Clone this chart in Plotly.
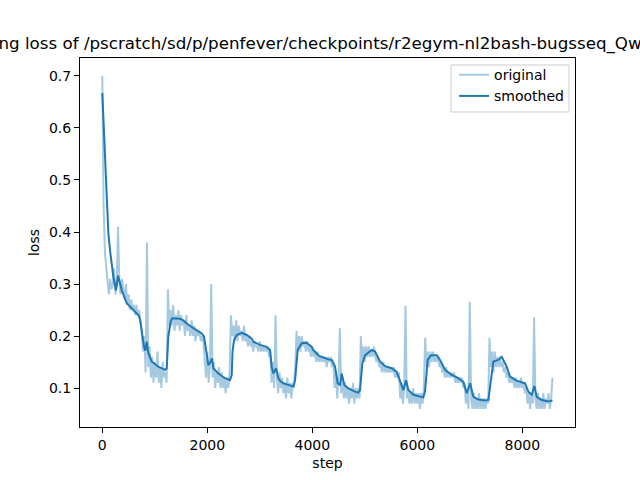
import plotly.graph_objects as go

TITLE = "Training loss of /pscratch/sd/p/penfever/checkpoints/r2egym-nl2bash-bugsseq_Qwen3-8B"

# original loss, one value every 25 steps starting at step 0
orig_interval = 25
orig_loss = [
    0.70, 0.45, 0.36, 0.33, 0.30, 0.28, 0.31, 0.29,
    0.30, 0.33, 0.28, 0.30, 0.41, 0.30, 0.28, 0.31,
    0.29, 0.27, 0.30, 0.26, 0.28, 0.25, 0.27, 0.25,
    0.26, 0.24, 0.26, 0.24, 0.25, 0.23, 0.21, 0.17,
    0.20, 0.13, 0.38, 0.14, 0.18, 0.12, 0.16, 0.11,
    0.15, 0.12, 0.17, 0.11, 0.14, 0.10, 0.15, 0.12,
    0.13, 0.11, 0.29, 0.22, 0.25, 0.22, 0.26, 0.21,
    0.24, 0.22, 0.25, 0.21, 0.24, 0.22, 0.23, 0.20,
    0.24, 0.21, 0.22, 0.20, 0.23, 0.20, 0.22, 0.19,
    0.21, 0.20, 0.21, 0.19, 0.20, 0.19, 0.15, 0.12,
    0.17, 0.11, 0.14, 0.30, 0.12, 0.15, 0.10, 0.13,
    0.11, 0.14, 0.10, 0.13, 0.10, 0.12, 0.09, 0.12,
    0.10, 0.13, 0.24, 0.20, 0.22, 0.19, 0.23, 0.19,
    0.22, 0.20, 0.21, 0.19, 0.22, 0.19, 0.20, 0.18,
    0.20, 0.18, 0.19, 0.17, 0.19, 0.18, 0.18, 0.17,
    0.19, 0.17, 0.18, 0.17, 0.18, 0.17, 0.18, 0.16,
    0.17, 0.11, 0.15, 0.10, 0.24, 0.12, 0.09, 0.13,
    0.10, 0.12, 0.09, 0.11, 0.08, 0.12, 0.09, 0.11,
    0.08, 0.11, 0.10, 0.14, 0.21, 0.17, 0.20, 0.17,
    0.20, 0.18, 0.19, 0.17, 0.19, 0.17, 0.18, 0.16,
    0.18, 0.16, 0.17, 0.15, 0.17, 0.15, 0.16, 0.15,
    0.16, 0.15, 0.16, 0.14, 0.16, 0.15, 0.16, 0.14,
    0.15, 0.10, 0.13, 0.08, 0.12, 0.215, 0.09, 0.12,
    0.08, 0.11, 0.08, 0.10, 0.07, 0.10, 0.08, 0.11,
    0.07, 0.10, 0.08, 0.10, 0.08, 0.20, 0.15, 0.18,
    0.15, 0.18, 0.16, 0.18, 0.16, 0.17, 0.16, 0.18,
    0.16, 0.15, 0.16, 0.14, 0.15, 0.13, 0.15, 0.13,
    0.14, 0.13, 0.14, 0.13, 0.14, 0.13, 0.14, 0.12,
    0.13, 0.12, 0.13, 0.08, 0.11, 0.07, 0.10, 0.258,
    0.08, 0.10, 0.07, 0.09, 0.07, 0.10, 0.07, 0.09,
    0.07, 0.09, 0.06, 0.09, 0.07, 0.10, 0.197, 0.14,
    0.17, 0.14, 0.17, 0.15, 0.17, 0.15, 0.16, 0.15,
    0.16, 0.14, 0.15, 0.13, 0.14, 0.12, 0.14, 0.12,
    0.13, 0.12, 0.13, 0.12, 0.13, 0.11, 0.12, 0.11,
    0.12, 0.11, 0.12, 0.10, 0.11, 0.07, 0.10, 0.06,
    0.266, 0.08, 0.06, 0.09, 0.06, 0.08, 0.06, 0.09,
    0.06, 0.08, 0.06, 0.08, 0.06, 0.08, 0.07, 0.197,
    0.14, 0.17, 0.13, 0.17, 0.14, 0.16, 0.14, 0.16,
    0.14, 0.15, 0.13, 0.14, 0.12, 0.13, 0.11, 0.12,
    0.11, 0.12, 0.10, 0.12, 0.10, 0.11, 0.10, 0.12,
    0.10, 0.11, 0.09, 0.10, 0.07, 0.09, 0.06, 0.09,
    0.07, 0.236, 0.08, 0.06, 0.09, 0.06, 0.08, 0.06,
    0.09, 0.06, 0.08, 0.07, 0.09, 0.06, 0.08, 0.119,
]
orig_step = [i * orig_interval for i in range(len(orig_loss))]

smooth_step = [
    0, 25, 50, 85, 115, 150, 210, 260, 300, 330, 370, 465, 590, 690, 720, 750,
    795, 820, 845, 877, 940, 1000, 1067, 1194, 1227, 1257, 1303, 1330, 1385,
    1480, 1544, 1608, 1734, 1830, 1893, 1937, 1975, 2020, 2050, 2090, 2115,
    2147, 2210, 2274, 2337, 2433, 2465, 2480, 2509, 2560, 2656, 2751, 2846,
    2877, 3004, 3131, 3195, 3227, 3258, 3309, 3353, 3385, 3448, 3543, 3639,
    3671, 3700, 3722, 3798, 3893, 3988, 4020, 4115, 4147, 4306, 4370, 4433,
    4484, 4528, 4560, 4610, 4687, 4814, 4877, 4909, 4953, 5004, 5132, 5195,
    5290, 5385, 5513, 5608, 5671, 5735, 5786, 5830, 5925, 6052, 6115, 6147,
    6198, 6262, 6370, 6433, 6528, 6656, 6782, 6877, 6942, 7005, 7068, 7163,
    7290, 7354, 7405, 7449, 7544, 7608, 7703, 7767, 7894, 8053, 8116, 8180,
    8230, 8275, 8370, 8497, 8575,
]
smooth_loss = [
    0.667, 0.61, 0.558, 0.46, 0.398, 0.362, 0.314, 0.288, 0.316, 0.305, 0.288,
    0.263, 0.25, 0.24, 0.231, 0.206, 0.179, 0.172, 0.189, 0.167, 0.151, 0.146,
    0.141, 0.135, 0.138, 0.199, 0.228, 0.234, 0.234, 0.233, 0.230, 0.224,
    0.215, 0.208, 0.205, 0.199, 0.17, 0.144, 0.148, 0.157, 0.138, 0.134, 0.128,
    0.123, 0.119, 0.115, 0.125, 0.17, 0.192, 0.202, 0.206, 0.202, 0.195, 0.189,
    0.183, 0.179, 0.173, 0.141, 0.128, 0.138, 0.119, 0.114, 0.109, 0.106,
    0.103, 0.115, 0.155, 0.173, 0.186, 0.187, 0.179, 0.173, 0.163, 0.161,
    0.155, 0.154, 0.141, 0.109, 0.106, 0.128, 0.106, 0.099, 0.093, 0.091,
    0.096, 0.147, 0.163, 0.173, 0.170, 0.151, 0.142, 0.138, 0.131, 0.115,
    0.096, 0.115, 0.096, 0.087, 0.083, 0.082, 0.093, 0.154, 0.163, 0.163,
    0.154, 0.135, 0.125, 0.119, 0.112, 0.090, 0.109, 0.083, 0.078, 0.076,
    0.077, 0.122, 0.151, 0.154, 0.160, 0.141, 0.122, 0.114, 0.109, 0.093,
    0.087, 0.104, 0.083, 0.077, 0.074, 0.076,
]

x_ticks = [0, 2000, 4000, 6000, 8000]
y_ticks = [0.1, 0.2, 0.3, 0.4, 0.5, 0.6, 0.7]
y_tick_text = ["0.1", "0.2", "0.3", "0.4", "0.5", "0.6", "0.7"]

BLUE = "#1f77b4"
FONT = "DejaVu Sans"

fig = go.Figure()
fig.add_trace(go.Scatter(
    x=orig_step, y=orig_loss, mode="lines", name="original",
    line=dict(color="rgba(31,119,180,0.4)", width=2),
))
fig.add_trace(go.Scatter(
    x=smooth_step, y=smooth_loss, mode="lines", name="smoothed",
    line=dict(color=BLUE, width=2),
))

axis_common = dict(
    showline=True, linecolor="black", linewidth=1, mirror=True,
    ticks="outside", ticklen=5, tickwidth=1, tickcolor="black",
    showgrid=False, zeroline=False,
    tickfont=dict(family=FONT, size=14, color="black"),
)

fig.update_layout(
    width=640, height=480,
    margin=dict(l=80, r=65, t=58, b=53),
    paper_bgcolor="white", plot_bgcolor="white",
    font=dict(family=FONT, size=14, color="black"),
    title=dict(text=TITLE, x=0.5, xref="paper", xanchor="center",
               y=1 - 49 / 480, yref="container", yanchor="bottom",
               font=dict(family=FONT, size=16.7, color="black")),
    xaxis=dict(range=[-425, 9004], tickvals=x_ticks,
               title=dict(text="step", font=dict(family=FONT, size=14), standoff=6),
               **axis_common),
    yaxis=dict(range=[0.025, 0.7346], tickvals=y_ticks, ticktext=y_tick_text,
               title=dict(text="loss", font=dict(family=FONT, size=14), standoff=6),
               **axis_common),
    legend=dict(x=0.988, y=0.997, xanchor="right", yanchor="top",
                bgcolor="rgba(0,0,0,0)", borderwidth=0,
                font=dict(family=FONT, size=14),
                itemwidth=30, tracegroupgap=0),
    shapes=[dict(type="rect", xref="paper", yref="paper",
                 x0=0.7495, x1=0.9879, y0=0.8537, y1=0.981,
                 line=dict(color="#cccccc", width=1),
                 fillcolor="rgba(255,255,255,0.8)", layer="above")],
    showlegend=True,
)

fig.write_html("out.html", config={"displayModeBar": False},
               post_script="document.body.style.margin='0px';")
